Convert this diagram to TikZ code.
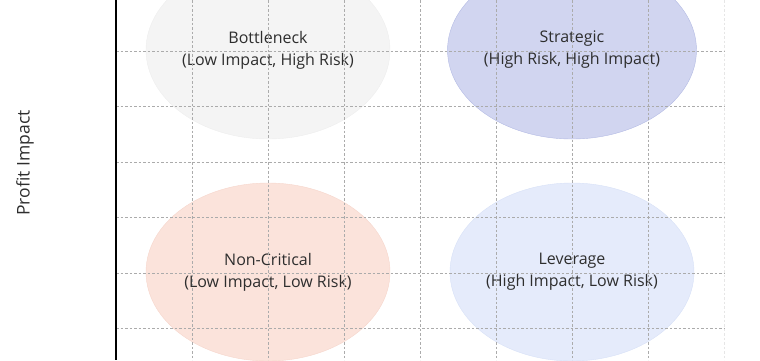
\documentclass[tikz,border=0pt]{standalone}
\usepackage{fontspec}
\setmainfont{Open Sans}
\usepackage{xcolor}
\usetikzlibrary{positioning,shapes.geometric}

\definecolor{txtgray}{HTML}{2E2E2E}
\definecolor{gridgray}{HTML}{ABABAB}
\definecolor{gridfaint}{HTML}{E6E6E6}
\definecolor{bneckfill}{HTML}{F4F4F4}
\definecolor{bneckline}{HTML}{EEEEEE}
\definecolor{stratfill}{HTML}{D1D5F0}
\definecolor{stratline}{HTML}{B4BBE4}
\definecolor{ncritfill}{HTML}{FBE3DB}
\definecolor{ncritline}{HTML}{F6D6CC}
\definecolor{leverfill}{HTML}{E5EBFB}
\definecolor{leverline}{HTML}{D8E1F7}

\begin{document}
\begin{tikzpicture}[
  x=1pt, y=-1pt,
  every node/.style={font=\fontsize{16}{22}\selectfont, text=txtgray},
  quad/.style={ellipse, minimum width=244pt, minimum height=178pt, inner sep=0pt, align=center},
  gridln/.style={draw=gridgray, line width=0.8pt, dash pattern=on 2.5pt off 2pt}]
  \useasboundingbox (0,0) rectangle (760,360);
  \clip (0,0) rectangle (760,360);
  % quadrants
  \node[quad, fill=bneckfill, draw=bneckline] (bneck)   at (268,50)  {Bottleneck\\(Low Impact, High Risk)};
  \node[quad, fill=stratfill, draw=stratline] (strat)   at (572,50)  {Strategic\\(High Risk, High Impact)};
  \node[quad, fill=ncritfill, draw=ncritline] (noncrit) at (268,272) {Non-Critical\\(Low Impact, Low Risk)};
  \node[quad, fill=leverfill, draw=leverline] (lever)   at (572,272) {Leverage\\(High Impact, Low Risk)};
  % grid
  \foreach \gx in {192,268,...,648}
    \draw[gridln] (\gx,0) -- (\gx,360);
  \draw[gridln, draw=gridfaint] (724,0) -- (724,360);
  \foreach \gy in {51,106.5,...,330}
    \draw[gridln] (116,\gy) -- (724,\gy);
  % axis
  \coordinate (top) at (116,0);
  \coordinate (bot) at (116,360);
  \draw[line width=1.4pt, black] (top) -- (bot);
  \node[rotate=90, font=\fontsize{17.5}{20}\selectfont] (ylab) at (25,163) {Profit Impact};
\end{tikzpicture}
\end{document}
